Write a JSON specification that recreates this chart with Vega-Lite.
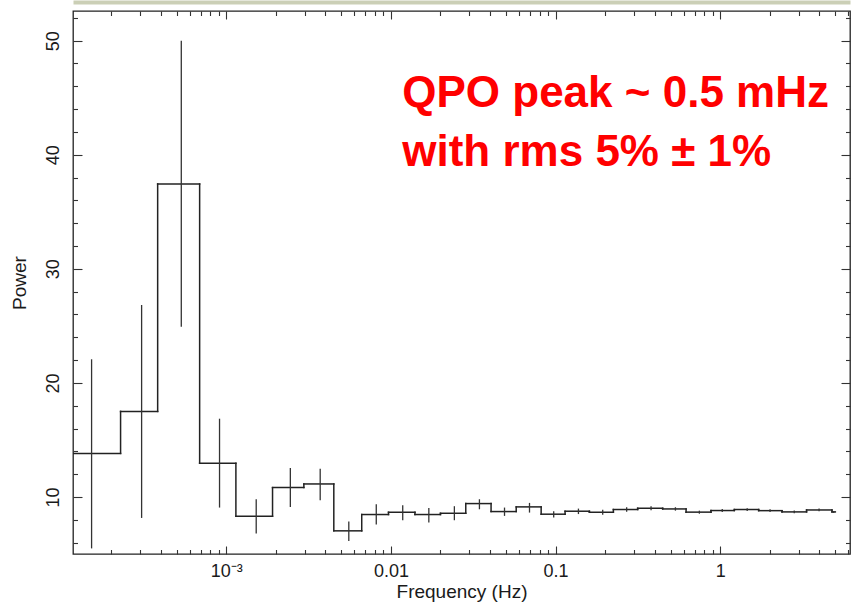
{
  "$schema": "https://vega.github.io/schema/vega-lite/v6.json",
  "width": 777,
  "height": 543,
  "autosize": {"type": "none"},
  "padding": {"left": 73, "top": 11, "right": 8, "bottom": 56},
  "background": "white",
  "config": {
    "view": {"stroke": "#222", "strokeWidth": 1.3},
    "axis": {"labelFont": "Liberation Sans", "titleFont": "Liberation Sans", "labelColor": "#1a1a1a", "titleColor": "#1a1a1a", "tickColor": "#333", "tickWidth": 1.1, "grid": false, "domain": false}
  },
  "datasets": {
    "bins": [
      {"lo": 0.0000946, "hi": 0.000228, "fc": 0.000152, "p": 13.82, "elo": 5.49, "ehi": 22.07, "pnext": 17.5},
      {"lo": 0.000228, "hi": 0.000383, "fc": 0.000306, "p": 17.5, "elo": 8.16, "ehi": 26.83, "pnext": 37.44},
      {"lo": 0.000383, "hi": 0.000689, "fc": 0.000533, "p": 37.44, "elo": 24.93, "ehi": 50.0, "pnext": 12.95},
      {"lo": 0.000689, "hi": 0.001144, "fc": 0.00091, "p": 12.95, "elo": 9.07, "ehi": 16.86, "pnext": 8.31},
      {"lo": 0.001144, "hi": 0.00191, "fc": 0.00152, "p": 8.31, "elo": 6.8, "ehi": 9.8, "pnext": 10.82},
      {"lo": 0.00191, "hi": 0.00296, "fc": 0.00245, "p": 10.82, "elo": 9.13, "ehi": 12.54, "pnext": 11.14},
      {"lo": 0.00296, "hi": 0.0045, "fc": 0.00372, "p": 11.14, "elo": 9.71, "ehi": 12.48, "pnext": 7.03},
      {"lo": 0.0045, "hi": 0.00665, "fc": 0.00555, "p": 7.03, "elo": 6.15, "ehi": 7.85, "pnext": 8.46},
      {"lo": 0.00665, "hi": 0.00967, "fc": 0.00815, "p": 8.46, "elo": 7.58, "ehi": 9.36, "pnext": 8.66},
      {"lo": 0.00967, "hi": 0.014, "fc": 0.0118, "p": 8.66, "elo": 7.96, "ehi": 9.27, "pnext": 8.46},
      {"lo": 0.014, "hi": 0.02, "fc": 0.017, "p": 8.46, "elo": 7.76, "ehi": 9.04, "pnext": 8.57},
      {"lo": 0.02, "hi": 0.0285, "fc": 0.0243, "p": 8.57, "elo": 7.96, "ehi": 9.19, "pnext": 9.42},
      {"lo": 0.0285, "hi": 0.0406, "fc": 0.0345, "p": 9.42, "elo": 8.92, "ehi": 9.8, "pnext": 8.72},
      {"lo": 0.0406, "hi": 0.0577, "fc": 0.049, "p": 8.72, "elo": 8.34, "ehi": 9.07, "pnext": 9.13},
      {"lo": 0.0577, "hi": 0.0818, "fc": 0.0695, "p": 9.13, "elo": 8.63, "ehi": 9.48, "pnext": 8.49},
      {"lo": 0.0818, "hi": 0.1143, "fc": 0.0975, "p": 8.49, "elo": 8.2, "ehi": 8.75, "pnext": 8.75},
      {"lo": 0.1143, "hi": 0.1606, "fc": 0.1378, "p": 8.75, "elo": 8.5, "ehi": 8.98, "pnext": 8.66},
      {"lo": 0.1606, "hi": 0.2246, "fc": 0.1935, "p": 8.66, "elo": 8.45, "ehi": 8.87, "pnext": 8.9},
      {"lo": 0.2246, "hi": 0.3155, "fc": 0.2705, "p": 8.9, "elo": 8.7, "ehi": 9.1, "pnext": 9.01},
      {"lo": 0.3155, "hi": 0.4477, "fc": 0.3805, "p": 9.01, "elo": 8.83, "ehi": 9.18, "pnext": 8.95},
      {"lo": 0.4477, "hi": 0.621, "fc": 0.535, "p": 8.95, "elo": 8.8, "ehi": 9.1, "pnext": 8.67},
      {"lo": 0.621, "hi": 0.88, "fc": 0.748, "p": 8.67, "elo": 8.53, "ehi": 8.8, "pnext": 8.81},
      {"lo": 0.88, "hi": 1.22, "fc": 1.03, "p": 8.81, "elo": 8.68, "ehi": 8.94, "pnext": 8.9},
      {"lo": 1.22, "hi": 1.714, "fc": 1.46, "p": 8.9, "elo": 8.78, "ehi": 9.02, "pnext": 8.8},
      {"lo": 1.714, "hi": 2.376, "fc": 2.01, "p": 8.8, "elo": 8.68, "ehi": 8.92, "pnext": 8.69},
      {"lo": 2.376, "hi": 3.35, "fc": 2.82, "p": 8.69, "elo": 8.57, "ehi": 8.81, "pnext": 8.86},
      {"lo": 3.35, "hi": 4.78, "fc": 3.99, "p": 8.86, "elo": 8.74, "ehi": 8.98, "pnext": 8.69},
      {"lo": 4.78, "hi": 5.01, "fc": 4.9, "p": 8.69, "elo": 8.6, "ehi": 8.78, "pnext": null}
    ]
  },
  "resolve": {"axis": {"x": "independent", "y": "independent"}},
  "layer": [
    {
      "data": {"name": "bins"},
      "mark": {"type": "rule", "color": "#222", "strokeWidth": 1.5, "strokeCap": "square", "clip": true},
      "encoding": {
        "x": {"field": "lo", "type": "quantitative", "scale": {"type": "log", "domain": [0.0001172, 6.15], "nice": false},
          "axis": {"orient": "bottom", "values": [0.001, 0.01, 0.1, 1], "tickSize": -8, "labelPadding": 16, "labelFontSize": 18,
            "labelExpr": "datum.value == 0.001 ? '10⁻³' : datum.value == 0.01 ? '0.01' : datum.value == 0.1 ? '0.1' : '1'",
            "title": "Frequency (Hz)", "titleFontSize": 19, "titleFontWeight": "normal", "titlePadding": 2}},
        "x2": {"field": "hi"},
        "y": {"field": "p", "type": "quantitative", "scale": {"domain": [5, 52.6], "nice": false, "zero": false},
          "axis": {"orient": "left", "values": [10, 20, 30, 40, 50], "tickSize": -9, "labelAngle": -90, "labelPadding": 20, "labelFontSize": 18,
            "title": "Power", "titleFontSize": 19, "titleFontWeight": "normal", "titlePadding": 15}}
      }
    },
    {
      "data": {"name": "bins"},
      "transform": [{"filter": "datum.pnext != null"}],
      "mark": {"type": "rule", "color": "#222", "strokeWidth": 1.5, "strokeCap": "square"},
      "encoding": {
        "x": {"field": "hi", "type": "quantitative",
          "axis": {"orient": "bottom", "values": [0.0002, 0.0003, 0.0004, 0.0005, 0.0006, 0.0007, 0.0008, 0.0009, 0.002, 0.003, 0.004, 0.005, 0.006, 0.007, 0.008, 0.009, 0.02, 0.03, 0.04, 0.05, 0.06, 0.07, 0.08, 0.09, 0.2, 0.3, 0.4, 0.5, 0.6, 0.7, 0.8, 0.9, 2, 3, 4, 5, 6], "tickSize": -4.5, "labels": false, "title": null}},
        "y": {"field": "p", "type": "quantitative",
          "axis": {"orient": "left", "values": [6, 8, 12, 14, 16, 18, 22, 24, 26, 28, 32, 34, 36, 38, 42, 44, 46, 48, 52], "tickSize": -4.5, "labels": false, "title": null}},
        "y2": {"field": "pnext"}
      }
    },
    {
      "data": {"name": "bins"},
      "mark": {"type": "rule", "color": "#333", "strokeWidth": 1.3},
      "encoding": {
        "x": {"field": "fc", "type": "quantitative",
          "axis": {"orient": "top", "values": [0.001, 0.01, 0.1, 1], "tickSize": -8, "labels": false, "title": null}},
        "y": {"field": "elo", "type": "quantitative",
          "axis": {"orient": "right", "values": [10, 20, 30, 40, 50], "tickSize": -9, "labels": false, "title": null}},
        "y2": {"field": "ehi"}
      }
    },
    {
      "data": {"values": [{"f": 0.01172, "pw": 44.2, "label": "QPO peak ~ 0.5 mHz"}]},
      "mark": {"type": "text", "color": "#ff0000", "font": "Liberation Sans", "fontWeight": "bold", "fontSize": 44, "align": "left", "baseline": "alphabetic"},
      "encoding": {
        "x": {"field": "f", "type": "quantitative",
          "axis": {"orient": "top", "values": [0.0002, 0.0003, 0.0004, 0.0005, 0.0006, 0.0007, 0.0008, 0.0009, 0.002, 0.003, 0.004, 0.005, 0.006, 0.007, 0.008, 0.009, 0.02, 0.03, 0.04, 0.05, 0.06, 0.07, 0.08, 0.09, 0.2, 0.3, 0.4, 0.5, 0.6, 0.7, 0.8, 0.9, 2, 3, 4, 5, 6], "tickSize": -4.5, "labels": false, "title": null}},
        "y": {"field": "pw", "type": "quantitative",
          "axis": {"orient": "right", "values": [6, 8, 12, 14, 16, 18, 22, 24, 26, 28, 32, 34, 36, 38, 42, 44, 46, 48, 52], "tickSize": -4.5, "labels": false, "title": null}},
        "text": {"field": "label"}
      }
    },
    {
      "data": {"values": [{"f": 0.01172, "pw": 39.0, "label": "with rms 5% ± 1%"}]},
      "mark": {"type": "text", "color": "#ff0000", "font": "Liberation Sans", "fontWeight": "bold", "fontSize": 44, "align": "left", "baseline": "alphabetic"},
      "encoding": {
        "x": {"field": "f", "type": "quantitative",
          "axis": {"orient": "top", "domain": true, "domainColor": "#cbcfb6", "domainWidth": 4, "offset": 9, "ticks": false, "labels": false, "title": null}},
        "y": {"field": "pw", "type": "quantitative", "axis": null},
        "text": {"field": "label"}
      }
    }
  ]
}
